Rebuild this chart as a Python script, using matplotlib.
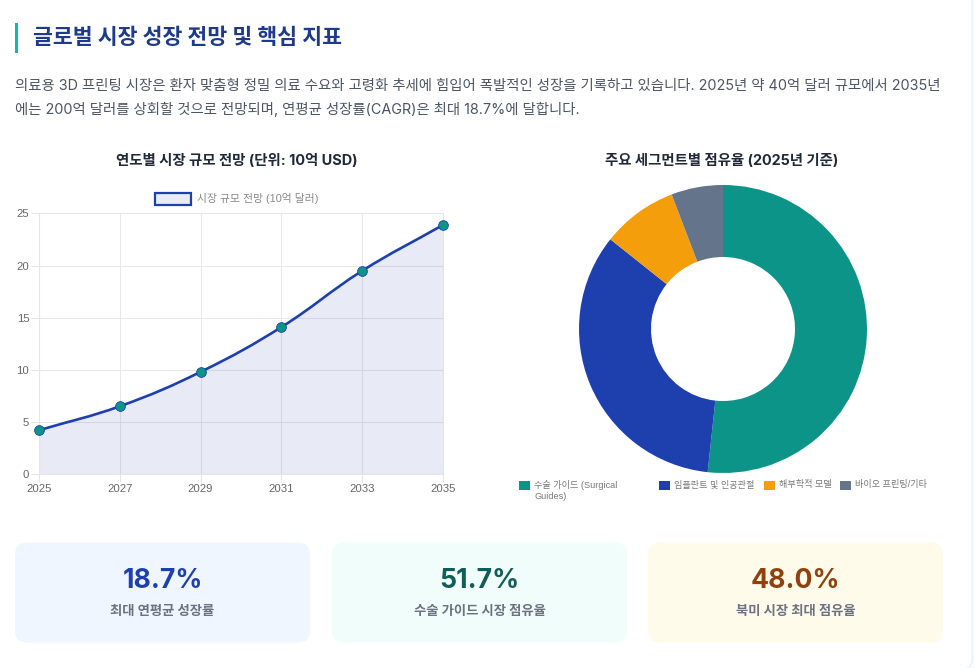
import numpy as np
import matplotlib
matplotlib.use('Agg')
import matplotlib.pyplot as plt
from matplotlib.patches import FancyBboxPatch, Rectangle
from matplotlib.path import Path
from matplotlib.patches import PathPatch

plt.rcParams['font.family'] = ['Inter', 'Noto Sans CJK KR', 'DejaVu Sans']

W, H = 975, 668

years = [2025, 2027, 2029, 2031, 2033, 2035]
market_size = [4.2, 6.5, 9.8, 14.1, 19.5, 23.9]
y_ticks = [0, 5, 10, 15, 20, 25]

segments = ['수술 가이드 (Surgical\nGuides)', '임플란트 및 인공관절', '해부학적 모델', '바이오 프린팅/기타']
shares = [51.7, 34.0, 8.5, 5.8]
seg_colors = ['#0d9488', '#1e40af', '#f59e0b', '#64748b']

card_values = ['18.7%', '51.7%', '48.0%']
card_labels = ['최대 연평균 성장률', '수술 가이드 시장 점유율', '북미 시장 최대 점유율']
card_bg = ['#eff6ff', '#f0fdfa', '#fffbeb']
card_fg = ['#1e40af', '#115e59', '#92400e']
card_x = [15, 332, 648]

title = '글로벌 시장 성장 전망 및 핵심 지표'
intro = ['의료용 3D 프린팅 시장은 환자 맞춤형 정밀 의료 수요와 고령화 추세에 힘입어 폭발적인 성장을 기록하고 있습니다. 2025년 약 40억 달러 규모에서 2035년',
         '에는 200억 달러를 상회할 것으로 전망되며, 연평균 성장률(CAGR)은 최대 18.7%에 달합니다.']


def px_axes(fig, x0, y0, x1, y1):
    # pixel box measured from the top left of the picture
    return fig.add_axes([x0 / W, 1 - y1 / H, (x1 - x0) / W, (y1 - y0) / H])


def spline_path(x, y, tension=0.4):
    # same control points as a chart.js tension curve
    x = np.array(x, dtype=float)
    y = np.array(y, dtype=float)
    verts = [(x[0], y[0])]
    codes = [Path.MOVETO]
    cx = []
    for i in range(len(x)):
        a = max(i - 1, 0)
        b = min(i + 1, len(x) - 1)
        # distances in screen terms, one year is about twice one unit of y
        d01 = np.hypot((x[i] - x[a]) * 2, y[i] - y[a])
        d12 = np.hypot((x[b] - x[i]) * 2, y[b] - y[i])
        s = d01 / (d01 + d12)
        f1 = tension * s
        f2 = tension * (1 - s)
        cx.append(((x[i] - f1 * (x[b] - x[a]), y[i] - f1 * (y[b] - y[a])),
                   (x[i] + f2 * (x[b] - x[a]), y[i] + f2 * (y[b] - y[a]))))
    for i in range(len(x) - 1):
        verts += [cx[i][1], cx[i + 1][0], (x[i + 1], y[i + 1])]
        codes += [Path.CURVE4] * 3
    return verts, codes


fig = plt.figure(figsize=(W / 100, H / 100), dpi=100, facecolor='#f8fafc')

# page layer in pixels
bg = fig.add_axes([0, 0, 1, 1])
bg.set_xlim(0, W)
bg.set_ylim(H, 0)
bg.axis('off')

# white page card, only its right edge and corner show
bg.add_patch(FancyBboxPatch((-20, -20), 992, 690, boxstyle='round,pad=0,rounding_size=12',
                            fc='white', ec='#eef2f7', lw=1))

bg.add_patch(Rectangle((15, 23), 3, 30, color='#14b8a6', lw=0))
bg.text(33, 38, title, fontsize=15.55, fontweight='bold', color='#1e3a8a', va='center')
bg.text(15, 85.5, intro[0], fontsize=10.37, color='#4b5563', va='center')
bg.text(15, 109, intro[1], fontsize=10.37, color='#4b5563', va='center')
bg.text(236.5, 161, '연도별 시장 규모 전망 (단위: 10억 USD)', fontsize=10.4, fontweight='bold',
        color='#1f2937', ha='center', va='center')
bg.text(721.5, 161, '주요 세그먼트별 점유율 (2025년 기준)', fontsize=10.35, fontweight='bold',
        color='#1f2937', ha='center', va='center')

# cards
for x, v, lab, c, f in zip(card_x, card_values, card_labels, card_bg, card_fg):
    bg.add_patch(FancyBboxPatch((x + 10, 552.5), 275, 80, boxstyle='round,pad=10,rounding_size=12', lw=0, fc=c))
    bg.text(x + 147.5, 581, v, fontsize=19.2, fontweight='bold', color=f, ha='center', va='center')
    bg.text(x + 147.5, 612, lab, fontsize=9.6, fontweight='bold', color='#6b7280', ha='center', va='center')

# line chart
ax = px_axes(fig, 39, 213.5, 443, 474)
ax.set_facecolor('none')
ax.set_xlim(years[0], years[-1])
ax.set_ylim(0, 25)
verts, codes = spline_path(years, market_size)
fill_verts = verts + [(years[-1], 0), (years[0], 0), verts[0]]
fill_codes = codes + [Path.LINETO, Path.LINETO, Path.CLOSEPOLY]
ax.add_patch(PathPatch(Path(fill_verts, fill_codes), fc='#1e40af', alpha=0.1, lw=0, zorder=1))
ax.add_patch(PathPatch(Path(verts, codes), fc='none', ec='#1e40af', lw=1.9, zorder=3))
ax.plot(years, market_size, ls='none', marker='o', ms=7, mfc='#0d9488', mec='#1e40af',
        mew=0.6, zorder=4, clip_on=False)
ax.grid(True, color='#e8e8e8', lw=0.75, zorder=0)
ax.set_axisbelow(True)
for s in ax.spines.values():
    s.set_color('#e5e5e5')
    s.set_linewidth(0.75)
ax.set_xticks(years)
ax.set_yticks(y_ticks)
ax.tick_params(length=5.5, width=0.75, color='#e5e5e5', labelsize=8.2, labelcolor='#666666', pad=1.5)
for t in ax.get_xticklabels() + ax.get_yticklabels():
    t.set_fontfamily(['Liberation Sans', 'Noto Sans CJK KR'])

# legend of the line chart
bg.add_patch(Rectangle((155, 193), 36, 12, fc='#e8ecf6', ec='#1e40af', lw=1.6))
bg.text(197, 199, '시장 규모 전망 (10억 달러)', fontsize=7.8, color='#888888', va='center',
        family=['Liberation Sans', 'Noto Sans CJK KR'])

# donut
ax2 = px_axes(fig, 579, 185, 867, 473)
ax2.set_facecolor('none')
ax2.pie(shares, colors=seg_colors, startangle=90, counterclock=False, radius=1,
        wedgeprops=dict(width=0.5, edgecolor='white', linewidth=0))
ax2.set_xlim(-1, 1)
ax2.set_ylim(-1, 1)

# legend of the donut
leg_x = [519, 659, 764, 840]
leg_text_x = [534.5, 674.5, 779, 855]
for lx, tx, name, c in zip(leg_x, leg_text_x, segments, seg_colors):
    bg.add_patch(Rectangle((lx, 481), 11, 9, fc=c, lw=0))
    lines = name.split('\n')
    for i, line in enumerate(lines):
        bg.text(tx, 485 + i * 11.5, line, fontsize=6.55, color='#777777', va='center',
                family=['Liberation Sans', 'Noto Sans CJK KR'])

fig.savefig('out.png', dpi=100, facecolor=fig.get_facecolor())
